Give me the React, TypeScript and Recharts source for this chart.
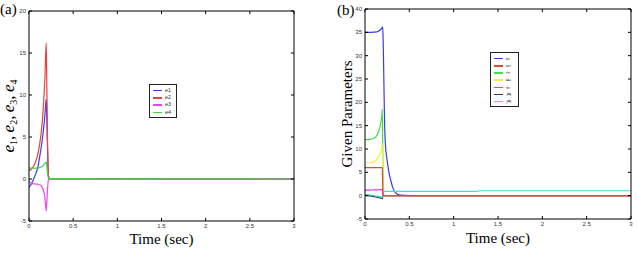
import React from 'react';
import { LineChart, Line, XAxis, YAxis } from 'recharts';

// ---- Panel (a): tracking errors e1..e4 ----
const timeA = [0, 0.01, 0.02, 0.04, 0.06, 0.08, 0.1, 0.12, 0.14, 0.16, 0.18, 0.195, 0.2, 0.21, 0.22, 0.23, 0.25, 0.3, 0.5, 1, 1.5, 2, 2.5, 3];
const errE1 = [-1, -0.85, -0.7, -0.3, 0.2, 0.7, 1.4, 2.6, 3.9, 5.5, 7.6, 9.5, 8.0, 3.5, 0.4, 0.05, 0.02, 0.02, 0.01, 0.01, 0, 0, 0, 0];
const errE2 = [1, 1.05, 1.1, 1.35, 1.7, 2.2, 3.0, 4.1, 5.7, 8.2, 12.0, 16.2, 12.5, 4.5, 0.4, 0.08, 0.05, 0.05, 0.04, 0.03, 0.02, 0.01, 0.01, 0];
const errE3 = [-0.2, -0.4, -0.5, -0.55, -0.58, -0.6, -0.62, -0.68, -0.85, -1.25, -2.2, -3.8, -3.0, -1.2, -0.1, 0, 0, 0, 0, 0, 0, 0, 0, 0];
const errE4 = [1.3, 1.3, 1.3, 1.3, 1.3, 1.3, 1.32, 1.36, 1.45, 1.6, 1.85, 2.0, 1.6, 0.7, 0.1, 0.05, 0.05, 0.05, 0.04, 0.03, 0.02, 0.01, 0.01, 0];
const yTicksA = [-5, 0, 5, 10, 15, 20];

// ---- Panel (b): estimated parameters ----
const timeB = [0, 0.05, 0.1, 0.13, 0.15, 0.17, 0.19, 0.195, 0.2, 0.205, 0.21, 0.215, 0.22, 0.23, 0.25, 0.27, 0.29, 0.32, 0.35, 0.4, 0.5, 1, 1.25, 1.3, 2, 2.5, 3];
const parA = [35, 35, 35.05, 35.1, 35.25, 35.5, 35.9, 36.1, 36.2, 33, 28, 22, 16.5, 11, 7.5, 5, 3.3, 1.4, 0.5, 0.1, 0, 0, 0, 0, 0, 0, 0];
const parB = [6, 6, 6, 6, 6, 6, 6, 5.9, 2.0, 0.2, 0, 0, 0, 0, 0, 0, 0, 0, 0, 0, 0, 0, 0, 0, 0, 0, 0];
const parC = [12, 12.05, 12.3, 12.8, 13.6, 14.9, 17.3, 18.5, 10, 2.0, 0.3, 0.1, 0, 0, 0, 0, 0, 0, 0, 0, 0, 0, 0, 0, 0, 0, 0];
const parD = [7, 7.05, 7.3, 7.7, 8.2, 9.0, 10.4, 11.2, 6.0, 1.5, 0.3, 0.1, 0, 0, 0, 0, 0, 0, 0, 0, 0, 0, 0, 0, 0, 0, 0];
const parE = [1.2, 1.2, 1.22, 1.24, 1.26, 1.28, 1.3, 1.3, 0.5, 0.1, 0, 0, 0, 0, 0, 0, 0, 0, 0, 0, 0, 0, 0, 0, 0, 0, 0];
const parW1 = [0.1, -0.05, -0.2, -0.3, -0.4, -0.5, -0.6, -0.65, -0.2, 0, 0, 0, 0, 0, 0, 0, 0, 0, 0, 0, 0, 0, 0, 0, 0, 0, 0];
const parW2 = [0.3, 0.2, 0.05, -0.05, -0.1, -0.2, -0.25, -0.3, 0.2, 0.6, 0.85, 0.9, 0.9, 0.9, 0.9, 0.9, 0.9, 0.9, 0.9, 0.9, 0.9, 0.9, 0.9, 1.05, 1.05, 1.05, 1.05];
const yTicksB = [-5, 0, 5, 10, 15, 20, 25, 30, 35, 40];

const xTicks = [0, 0.5, 1, 1.5, 2, 2.5, 3];

const seriesA = [
  { key: 'e1', label: 'e1', color: '#3b3bea', values: errE1 },
  { key: 'e2', label: 'e2', color: '#e84242', values: errE2 },
  { key: 'e3', label: 'e3', color: '#ee44ee', values: errE3 },
  { key: 'e4', label: 'e4', color: '#3fd43f', values: errE4 },
];

const seriesB = [
  { key: 'a', label: 'â', color: '#3b3bea', values: parA },
  { key: 'b', label: 'b̂', color: '#e84242', values: parB },
  { key: 'c', label: 'ĉ', color: '#44dd44', values: parC },
  { key: 'd', label: 'd̂', color: '#f2f23a', values: parD },
  { key: 'e', label: 'ê', color: '#dd33dd', values: parE },
  { key: 'w1', label: 'θ̂₁', color: '#3a3a3a', values: parW1 },
  { key: 'w2', label: 'θ̂₂', color: '#44dddd', values: parW2 },
];
// painting order for panel (b): zero-level red stays on top
const drawOrderB = ['a', 'w1', 'w2', 'c', 'd', 'e', 'b'];

const rowsA = timeA.map((t, i) => {
  const row: Record<string, number> = { t };
  seriesA.forEach((s) => (row[s.key] = s.values[i]));
  return row;
});
const rowsB = timeB.map((t, i) => {
  const row: Record<string, number> = { t };
  seriesB.forEach((s) => (row[s.key] = s.values[i]));
  return row;
});

const SERIF = '"Liberation Serif", "Times New Roman", serif';
const SANS = '"Liberation Sans", Arial, sans-serif';
const tickStyle = { fontSize: 6, fill: '#333', fontFamily: SANS };
const noTick = () => <g />;

// Box frame with inward tick marks on all four sides
function frameAxes(yDomain: number[], yTicks: number[]) {
  return [
    <XAxis key="xt" xAxisId="top" orientation="top" mirror type="number" dataKey="t" domain={[0, 3]} ticks={xTicks}
      allowDataOverflow tick={noTick} tickSize={3} tickLine={{ stroke: '#000' }} axisLine={{ stroke: '#000' }} />,
    <XAxis key="xbm" xAxisId="bm" mirror type="number" dataKey="t" domain={[0, 3]} ticks={xTicks}
      allowDataOverflow tick={noTick} tickSize={3} tickLine={{ stroke: '#000' }} axisLine={false} />,
    <YAxis key="ylm" yAxisId="lm" mirror type="number" domain={yDomain} ticks={yTicks}
      allowDataOverflow tick={noTick} tickSize={3} tickLine={{ stroke: '#000' }} axisLine={false} />,
    <YAxis key="yr" yAxisId="r" orientation="right" mirror type="number" domain={yDomain} ticks={yTicks}
      allowDataOverflow tick={noTick} tickSize={3} tickLine={{ stroke: '#000' }} axisLine={{ stroke: '#000' }} />,
  ];
}

function ErrorAxisTitle(props: any) {
  const vb = props.viewBox || { x: 0, y: 11, width: 29, height: 210 };
  const cx = vb.x + 14;
  const cy = vb.y + vb.height / 2;
  const parts = ['1', '2', '3', '4'];
  return (
    <text x={cx} y={cy} transform={`rotate(-90, ${cx}, ${cy})`} textAnchor="middle"
      fontFamily={SERIF} fontSize={17} fontStyle="italic" fill="#000">
      {parts.map((n, i) => (
        <React.Fragment key={n}>
          <tspan>e</tspan>
          <tspan fontSize={10} fontStyle="normal" dy={3}>{n}</tspan>
          <tspan dy={-3} fontStyle="normal">{i < parts.length - 1 ? ',\u2009' : ''}</tspan>
        </React.Fragment>
      ))}
    </text>
  );
}

function ParamAxisTitle(props: any) {
  const vb = props.viewBox || { x: 0, y: 9, width: 45, height: 210 };
  const cx = vb.x + 32;
  const cy = vb.y + vb.height / 2;
  return (
    <text x={cx} y={cy} transform={`rotate(-90, ${cx}, ${cy})`} textAnchor="middle"
      fontFamily={SERIF} fontSize={15} fill="#000">
      Given Parameters
    </text>
  );
}

function LegendBox({ items, left, top, width, rowH, rotate }: any) {
  return (
    <div style={{
      position: 'absolute', left, top, width, boxSizing: 'border-box',
      border: '1px solid #222', background: '#fff', padding: '2px 0 1px 0',
      fontFamily: SANS, fontSize: 5.5, color: '#333',
    }}>
      {items.map((s: any) => (
        <div key={s.key} style={{ height: rowH, display: 'flex', alignItems: 'center' }}>
          <div style={{ width: 9, height: 1.5, background: s.color, marginLeft: 3, marginRight: 3 }} />
          <span style={{ display: 'inline-block', lineHeight: 1, transform: rotate ? 'rotate(90deg)' : undefined, fontFamily: rotate ? SERIF : SANS }}>
            {s.label}
          </span>
        </div>
      ))}
    </div>
  );
}

export default function App() {
  return (
    <div style={{ position: 'absolute', left: 0, top: 0, width: 637, height: 256, background: '#fff', overflow: 'hidden' }}>
      {/* Panel (a) */}
      <div style={{ position: 'absolute', left: 0, top: 0, width: 300, height: 256 }}>
        <LineChart width={300} height={256} data={rowsA} margin={{ top: 11, right: 6, left: 0, bottom: 0 }}>
          <XAxis xAxisId="main" type="number" dataKey="t" domain={[0, 3]} ticks={xTicks} allowDataOverflow
            height={35} tickLine={false} tickSize={0} tickMargin={3} tick={tickStyle} axisLine={{ stroke: '#000' }}
            label={{ value: 'Time (sec)', position: 'insideBottom', offset: 12, fill: '#000', fontSize: 15, fontFamily: SERIF }} />
          <YAxis yAxisId="main" type="number" domain={[-5, 20]} ticks={yTicksA} allowDataOverflow
            width={29} tickLine={false} tickSize={0} tickMargin={3} tick={tickStyle} axisLine={{ stroke: '#000' }}
            label={{ content: (p: any) => <ErrorAxisTitle {...p} /> }} />
          {frameAxes([-5, 20], yTicksA)}
          {seriesA.map((s) => (
            <Line key={s.key} xAxisId="main" yAxisId="main" dataKey={s.key} type="monotone" stroke={s.color}
              strokeWidth={1.2} dot={false} isAnimationActive={false} />
          ))}
        </LineChart>
        <LegendBox items={seriesA} left={149} top={84} width={28} rowH={7.3} rotate={false} />
        <div style={{ position: 'absolute', left: 0, top: 1, fontFamily: SERIF, fontSize: 15, lineHeight: '17px' }}>(a)</div>
      </div>

      {/* Panel (b) */}
      <div style={{ position: 'absolute', left: 320, top: 0, width: 317, height: 256 }}>
        <LineChart width={317} height={256} data={rowsB} margin={{ top: 9, right: 6, left: 0, bottom: 0 }}>
          <XAxis xAxisId="main" type="number" dataKey="t" domain={[0, 3]} ticks={xTicks} allowDataOverflow
            height={37} tickLine={false} tickSize={0} tickMargin={3} tick={tickStyle} axisLine={{ stroke: '#000' }}
            label={{ value: 'Time (sec)', position: 'insideBottom', offset: 13, fill: '#000', fontSize: 15, fontFamily: SERIF }} />
          <YAxis yAxisId="main" type="number" domain={[-5, 40]} ticks={yTicksB} allowDataOverflow
            width={45} tickLine={false} tickSize={0} tickMargin={3} tick={tickStyle} axisLine={{ stroke: '#000' }}
            label={{ content: (p: any) => <ParamAxisTitle {...p} /> }} />
          {frameAxes([-5, 40], yTicksB)}
          {drawOrderB.map((k) => {
            const s = seriesB.find((x) => x.key === k)!;
            return (
              <Line key={s.key} xAxisId="main" yAxisId="main" dataKey={s.key} type="monotone" stroke={s.color}
                strokeWidth={1.2} dot={false} isAnimationActive={false} />
            );
          })}
        </LineChart>
        <LegendBox items={seriesB} left={170} top={52} width={29} rowH={7.2} rotate={true} />
        <div style={{ position: 'absolute', left: 17, top: 2, fontFamily: SERIF, fontSize: 15, lineHeight: '17px' }}>(b)</div>
      </div>
    </div>
  );
}
